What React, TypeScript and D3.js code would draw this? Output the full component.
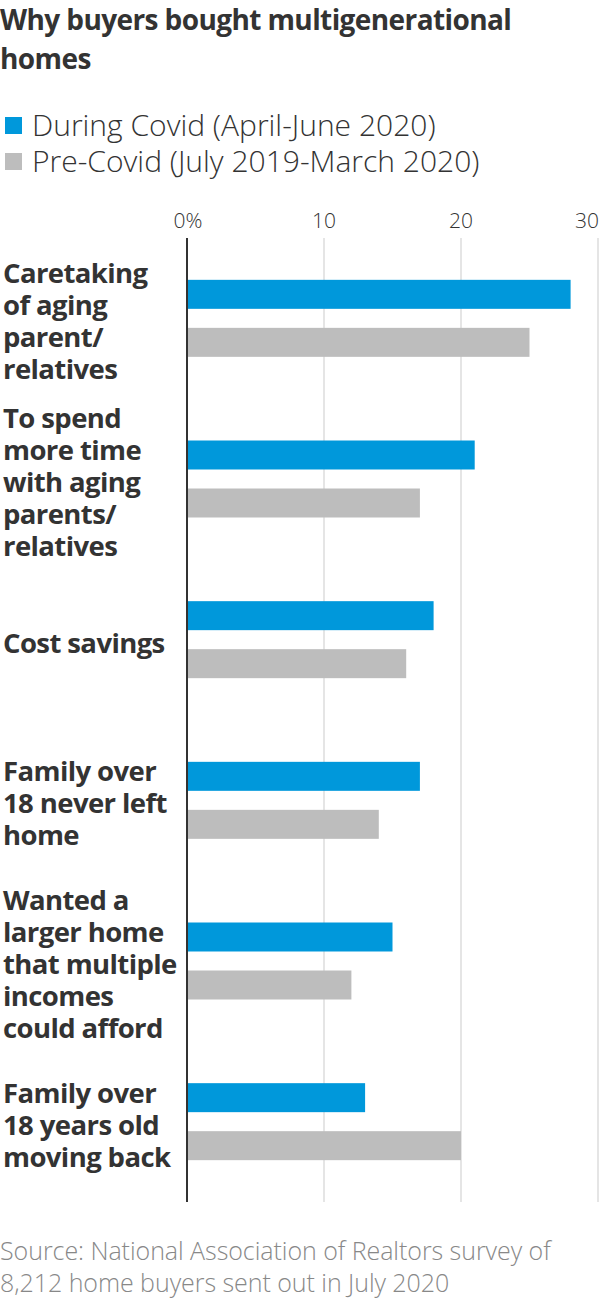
import * as d3 from "d3";
import { useEffect, useRef } from "react";

const categories: string[][] = [
  ["Caretaking", "of aging", "parent/", "relatives"],
  ["To spend", "more time", "with aging", "parents/", "relatives"],
  ["Cost savings"],
  ["Family over", "18 never left", "home"],
  ["Wanted a", "larger home", "that multiple", "incomes", "could afford"],
  ["Family over", "18 years old", "moving back"],
];
const seriesNames = ["During Covid (April-June 2020)", "Pre-Covid (July 2019-March 2020)"];
const duringCovid = [28, 21, 18, 17, 15, 13];
const preCovid = [25, 17, 16, 14, 12, 20];
const ticks = [0, 10, 20, 30];

const colors = ["#0098db", "#bdbdbd"];
const font = "'Open Sans', 'Noto Sans', sans-serif";

const App: React.FC = () => {
  const ref = useRef<SVGSVGElement | null>(null);

  useEffect(() => {
    if (!ref.current) return;
    document.body.style.margin = "0";
    const svg = d3.select(ref.current);
    svg.selectAll("*").remove();
    const width = 600;
    const height = 1300;
    const top = 238;
    const bottom = 1202;

    svg.attr("width", width).attr("height", height).style("display", "block");

    // title
    const title = svg.append("text").attr("font-family", font).attr("font-weight", 700)
      .attr("font-size", 28).attr("fill", "#333").attr("letter-spacing", -0.6);
    ["Why buyers bought multigenerational", "homes"].forEach((t, i) =>
      title.append("tspan").attr("x", 0).attr("y", 30 + i * 39).text(t)
    );

    // legend
    seriesNames.forEach((name, i) => {
      const g = svg.append("g").attr("transform", `translate(0,${117 + i * 36})`);
      g.append("rect").attr("x", 5).attr("y", 0).attr("width", 17).attr("height", 17).attr("fill", colors[i]);
      g.append("text").attr("x", 32).attr("y", 19).attr("font-family", font).attr("font-weight", 300)
        .attr("font-size", 30).attr("fill", "#333").text(name);
    });

    const x = d3.scaleLinear().domain([0, 30]).range([187, 598]);
    const y = d3.scaleBand<number>().domain(d3.range(categories.length)).range([top, bottom]);
    const sub = d3.scaleBand<number>().domain([0, 1]).range([0, 77]).paddingInner(0.396);
    const offset = (y.bandwidth() - 77) / 2;

    // grid + tick labels
    svg.append("g").selectAll("line").data(ticks.slice(1)).join("line")
      .attr("x1", (d) => x(d)).attr("x2", (d) => x(d)).attr("y1", top).attr("y2", bottom)
      .attr("stroke", "#ddd").attr("stroke-width", 1.5);
    svg.append("g").selectAll("text").data(ticks).join("text")
      .attr("x", (d, i) => (i === ticks.length - 1 ? 599 : x(d) + (d === 0 ? 1 : 0)))
      .attr("y", 228)
      .attr("text-anchor", (_, i) => (i === ticks.length - 1 ? "end" : "middle"))
      .attr("font-family", font).attr("font-weight", 300).attr("font-size", 21).attr("fill", "#333")
      .text((d) => (d === 0 ? "0%" : String(d)));

    // bars
    const rows = categories.map((_, i) => [duringCovid[i], preCovid[i]]);
    const groups = svg.append("g").selectAll("g").data(rows).join("g")
      .attr("transform", (_, i) => `translate(0,${y(i)! + offset})`);
    groups.selectAll("rect").data((d) => d).join("rect")
      .attr("x", x(0)).attr("y", (_, j) => sub(j)!).attr("width", (d) => x(d) - x(0))
      .attr("height", sub.bandwidth()).attr("fill", (_, j) => colors[j]);

    // axis line
    svg.append("line").attr("x1", x(0)).attr("x2", x(0)).attr("y1", top).attr("y2", bottom)
      .attr("stroke", "#333").attr("stroke-width", 2);

    // category labels
    categories.forEach((lines, i) => {
      const cy = y(i)! + y.bandwidth() / 2 + 3;
      const t = svg.append("text").attr("font-family", font).attr("font-weight", 700)
        .attr("font-size", 27.5).attr("fill", "#333").attr("letter-spacing", -0.6);
      lines.forEach((l, k) =>
        t.append("tspan").attr("x", 3).attr("y", cy + (k - (lines.length - 1) / 2) * 32 + 10).text(l)
      );
    });

    // source
    const src = svg.append("text").attr("font-family", font).attr("font-weight", 300)
      .attr("font-size", 25).attr("fill", "#888").attr("letter-spacing", -0.05);
    ["Source: National Association of Realtors survey of", "8,212 home buyers sent out in July 2020"].forEach(
      (t, i) => src.append("tspan").attr("x", 0).attr("y", 1260 + i * 32).text(t)
    );
  }, []);

  return <svg ref={ref}></svg>;
};

export default App;
